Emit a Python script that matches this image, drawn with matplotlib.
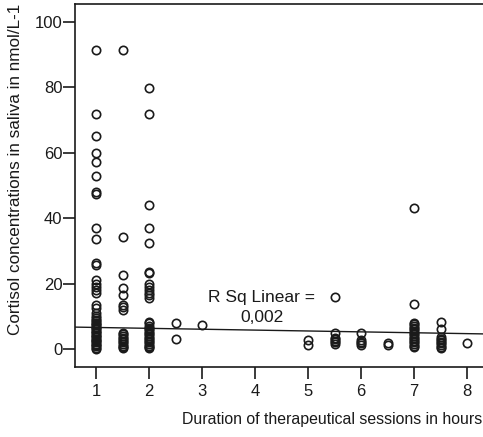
import numpy as np
import matplotlib
matplotlib.use('Agg')
import matplotlib.pyplot as plt

plt.rcParams['font.family'] = ['Liberation Sans', 'DejaVu Sans']

# cortisol values (nmol/L) per session duration (hours)
hours = [1, 1.5, 2, 2.5, 3, 5, 5.5, 6, 6.5, 7, 7.5, 8]
cortisol = [
    [91.4, 72, 65, 60, 57.2, 53, 48, 47.5, 37, 33.6, 26.3, 25.8, 21, 20, 19,
     18, 17, 13.5, 12.5, 11, 10, 9.5, 9, 8.5, 8, 7.6, 7.2, 6.8, 6.4, 6.0,
     5.6, 5.2, 4.8, 4.4, 4.0, 3.6, 3.2, 2.8, 2.4, 2.0, 1.6, 1.2, 0.8, 0.4, 0.1],
    [91.4, 34.2, 22.6, 18.6, 16.5, 13.5, 12.8, 12, 5, 4.5, 4.0, 3.5, 3.0, 2.5,
     2.0, 1.5, 1.0, 0.6, 0.3],
    [79.8, 72, 44, 37, 32.4, 23.5, 23.2, 20, 19, 18, 17, 16.5, 15.6, 8.3, 7.8,
     7.0, 6.5, 6.0, 5.5, 5.0, 4.5, 4.0, 3.5, 3.0, 2.5, 2.0, 1.5, 1.0, 0.6, 0.3],
    [8, 3],
    [7.3],
    [2.8, 1.3],
    [16, 4.9, 3.5, 3, 2.5, 2, 1.5],
    [4.9, 2.7, 2.2, 1.7, 1.3],
    [1.8, 1.3],
    [43.1, 13.8, 8, 7.5, 7, 6.5, 6, 5.5, 5, 4.5, 4, 3.5, 3, 2.5, 2, 1.5, 1, 0.6],
    [8.3, 6.1, 3.7, 3.2, 2.7, 2.2, 1.7, 1.2, 0.7, 0.2],
    [1.8],
]

# linear fit as printed by the stats package
fit_intercept = 6.86
fit_slope = -0.27
r_sq_text = 'R Sq Linear =\n0,002'

xticks = [1, 2, 3, 4, 5, 6, 7, 8]
yticks = [0, 20, 40, 60, 80, 100]

ink = '#1a1a1a'

fig = plt.figure(figsize=(4.83, 4.37), dpi=100)
ax = fig.add_axes([0.1553, 0.1602, 0.8447, 0.8307])

xs = np.concatenate([[h] * len(v) for h, v in zip(hours, cortisol)])
ys = np.concatenate([np.array(v, dtype=float) for v in cortisol])
ax.plot(xs, ys, 'o', mfc='none', mec=ink, ms=6, mew=1.2, zorder=3)

xlim = (0.604, 8.30)
fx = np.array(xlim)
ax.plot(fx, fit_intercept + fit_slope * fx, '-', color=ink, lw=1.0, zorder=2)

ax.text(4.13, 12.7, r_sq_text, ha='center', va='center', fontsize=12.5,
        color=ink, linespacing=1.4)

ax.set_xlim(*xlim)
ax.set_ylim(-5.5, 105.5)
ax.set_xticks(xticks)
ax.set_yticks(yticks)

for s in ['left', 'bottom', 'top']:
    ax.spines[s].set_color(ink)
    ax.spines[s].set_linewidth(1.2)
ax.spines['right'].set_visible(False)

ax.tick_params(direction='out', length=8.6, width=1.2, color=ink,
               labelcolor=ink, labelsize=12)
ax.tick_params(axis='y', pad=0.5)
ax.tick_params(axis='x', pad=4)

ax.set_xlabel('Duration of therapeutical sessions in hours', fontsize=11.45,
              color=ink, ha='right', va='center')
ax.xaxis.set_label_coords(0.998, -0.146)
ax.set_ylabel('Cortisol concentrations in saliva in nmol/L-1', fontsize=12.3,
              color=ink, va='center')
ax.yaxis.set_label_coords(-0.147, 0.543)

fig.savefig('out.png', dpi=100)
